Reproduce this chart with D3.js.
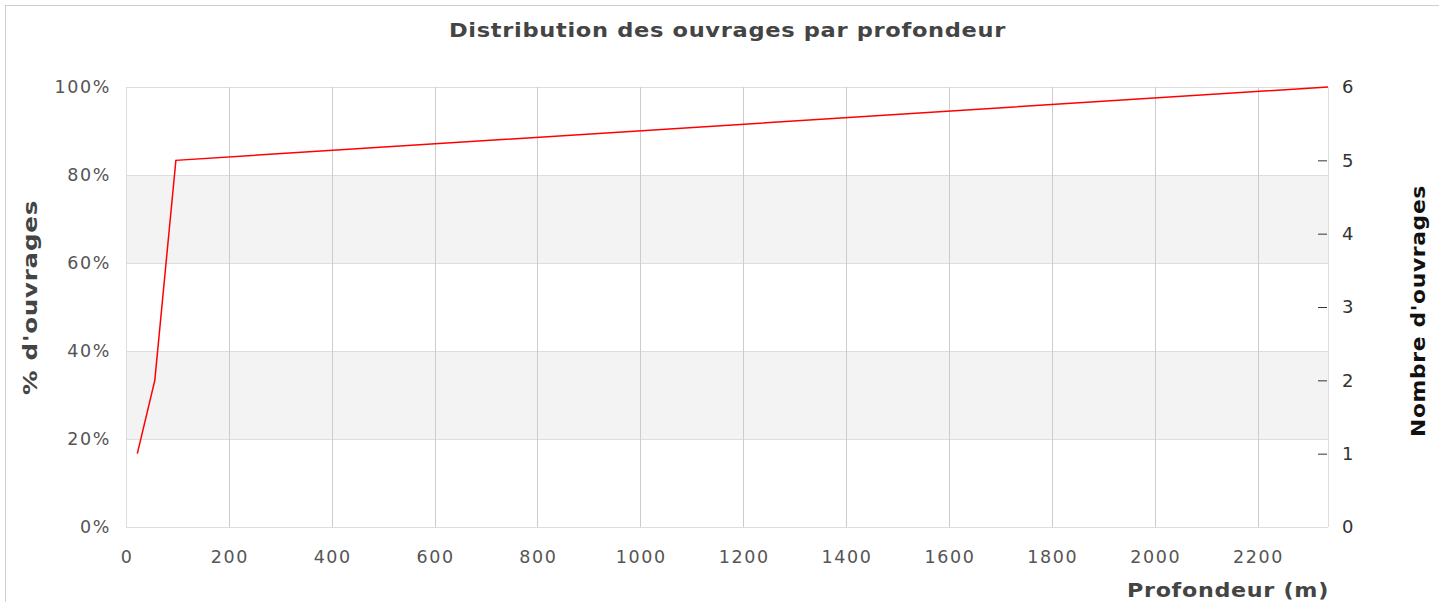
<!DOCTYPE html>
<html>
<head>
<meta charset="utf-8">
<script src="https://cdn.jsdelivr.net/npm/d3@7"></script>
<style>
  body { margin: 0; background: #fff; }
  svg { display: block; }
  text { font-family: 'DejaVu Sans', sans-serif; }
</style>
</head>
<body>
<div id="chart"></div>
<script>
// data
const depths = [22, 56, 97, 2337] // profondeur (m)
const counts = [1, 2, 5, 6] // nombre cumulé d'ouvrages
const xTicks = [0, 200, 400, 600, 800, 1000, 1200, 1400, 1600, 1800, 2000, 2200]
const pctTicks = [0, 0.2, 0.4, 0.6, 0.8, 1]
const countTicks = [0, 1, 2, 3, 4, 5, 6]
const title = 'Distribution des ouvrages par profondeur'

const width = 1439
const height = 602
const plot = { left: 126, right: 1328, top: 87, bottom: 527 }

const svg = d3.select('#chart').append('svg')
  .attr('width', width)
  .attr('height', height)

// outer frame
svg.append('rect')
  .attr('x', 5.5).attr('y', 5.5)
  .attr('width', width + 10).attr('height', height + 10)
  .attr('fill', 'none')
  .attr('stroke', '#cfcfcf')

const x = d3.scaleLinear().domain([0, d3.max(depths)]).range([plot.left, plot.right])
const yPct = d3.scaleLinear().domain([0, 1]).range([plot.bottom, plot.top])
const yCount = d3.scaleLinear().domain([0, d3.max(counts)]).range([plot.bottom, plot.top])

// alternating bands
const bands = d3.pairs(pctTicks).filter((d, i) => i % 2 === 1)
svg.append('g').selectAll('rect').data(bands).join('rect')
  .attr('x', plot.left)
  .attr('width', plot.right - plot.left)
  .attr('y', d => yPct(d[1]))
  .attr('height', d => yPct(d[0]) - yPct(d[1]))
  .attr('fill', '#f3f3f3')

// horizontal grid
svg.append('g').selectAll('line').data(pctTicks).join('line')
  .attr('x1', plot.left).attr('x2', plot.right)
  .attr('y1', d => Math.round(yPct(d)) + 0.5)
  .attr('y2', d => Math.round(yPct(d)) + 0.5)
  .attr('stroke', '#dddddd')

// vertical grid
svg.append('g').selectAll('line').data(xTicks).join('line')
  .attr('x1', d => Math.round(x(d)) + 0.5)
  .attr('x2', d => Math.round(x(d)) + 0.5)
  .attr('y1', plot.top).attr('y2', plot.bottom)
  .attr('stroke', d => d === 0 ? '#dddddd' : '#cccccc')

// right edge of plot
svg.append('line')
  .attr('x1', plot.right + 0.5).attr('x2', plot.right + 0.5)
  .attr('y1', plot.top).attr('y2', plot.bottom)
  .attr('stroke', '#dddddd')

// bottom axis labels
svg.append('g').selectAll('text').data(xTicks).join('text')
  .attr('x', d => x(d) + 1)
  .attr('y', 563)
  .attr('text-anchor', 'middle')
  .attr('fill', '#555')
  .style('font-size', '17.5px')
  .style('letter-spacing', '1.6px')
  .text(d => d)

// left axis labels
svg.append('g').selectAll('text').data(pctTicks).join('text')
  .attr('x', 111)
  .attr('y', d => yPct(d))
  .attr('dy', '0.36em')
  .attr('text-anchor', 'end')
  .attr('fill', '#555')
  .style('font-size', '17.5px')
  .style('letter-spacing', '1.6px')
  .text(d => d3.format('.0%')(d))

// right axis
const rightAxis = svg.append('g')
  .attr('transform', `translate(${plot.right},0)`)
  .call(d3.axisRight(yCount).tickValues(countTicks).tickFormat(d3.format('d')).tickSize(0).tickPadding(14))
rightAxis.select('.domain').remove()
rightAxis.selectAll('text')
  .attr('fill', '#333')
  .style('font-size', '18px')
  .style('font-family', "'DejaVu Sans', sans-serif")
rightAxis.selectAll('.tick')
  .filter(d => d > 0 && d < d3.max(countTicks))
  .append('line')
  .attr('x1', -10).attr('x2', -1)
  .attr('stroke', '#333')

// cumulative line
const line = d3.line()
  .x((d, i) => x(depths[i]))
  .y(d => yCount(d))
svg.append('path')
  .datum(counts)
  .attr('d', line)
  .attr('fill', 'none')
  .attr('stroke', '#ff0000')
  .attr('stroke-width', 1.5)

// titles, widths matched to the reference
function label(txt, len, size, fill) {
  return svg.append('text')
    .attr('fill', fill)
    .attr('textLength', len)
    .attr('lengthAdjust', 'spacingAndGlyphs')
    .style('font-size', size)
    .style('font-weight', 'bold')
    .style('letter-spacing', '0.6px')
    .text(txt)
}

label(title, 557, '20px', '#444')
  .attr('x', 449)
  .attr('y', 37)

label("% d'ouvrages", 195, '19px', '#444')
  .attr('transform', 'translate(37,395) rotate(-90)')

label("Nombre d'ouvrages", 252, '19px', '#111')
  .attr('transform', 'translate(1425,437) rotate(-90)')

label('Profondeur (m)', 202, '19px', '#444')
  .attr('x', 1127)
  .attr('y', 597)
</script>
</body>
</html>
